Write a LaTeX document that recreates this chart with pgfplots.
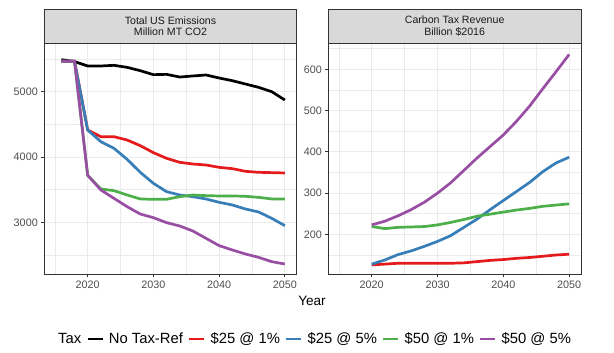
\documentclass[border=0pt]{standalone}
\usepackage{pgfplots}
\pgfplotsset{compat=1.18}
\usepackage{fontspec}
\setmainfont{Liberation Sans}
\definecolor{cred}{HTML}{E41A1C}
\definecolor{cblue}{HTML}{377EB8}
\definecolor{cgreen}{HTML}{4DAF4A}
\definecolor{cpurple}{HTML}{984EA3}
\definecolor{gray20}{HTML}{333333}
\definecolor{gray30}{HTML}{4D4D4D}
\definecolor{gray85}{HTML}{D9D9D9}
\definecolor{gray92}{HTML}{EBEBEB}
\definecolor{gray10}{HTML}{1A1A1A}
\pgfplotsset{
  panel/.style={
    scale only axis, height=230.7pt,
    xmin=2013.4, xmax=2051.8,
    xtick={2020,2030,2040,2050}, minor xtick={2015,2025,2035,2045},
    grid=both,
    major grid style={gray92, line width=1pt},
    minor grid style={gray92, line width=0.5pt},
    axis line style={gray20, line width=0.9pt},
    tick align=outside, major tick length=3pt, minor tick length=0pt,
    tick style={gray20, line width=0.8pt},
    tick pos=left,
    ticklabel style={font=\fontsize{10.8}{12}\selectfont, text=gray30},
    /pgf/number format/assume math mode=true,
    /pgf/number format/set thousands separator={},
    every axis plot/.append style={line width=2.7pt, no markers},
  }
}
\begin{document}
\begin{tikzpicture}
\path[use as bounding box] (0,0) rectangle (614pt,-353pt);
\begin{axis}[panel, name=L, at={(44.3pt,-274pt)}, anchor=south west, width=252.4pt,
  ymin=2210, ymax=5740,
  ytick={3000,4000,5000}, minor ytick={2500,3500,4500,5500},
  legend columns=-1,
  legend style={at={(1.061,-0.282)}, anchor=center, draw=none, fill=none,
    font=\fontsize{14.8}{16}\selectfont, inner sep=0pt,
    nodes={inner sep=0pt},
    /tikz/every odd column/.append style={column sep=5pt},
    /tikz/every even column/.append style={column sep=5pt}},
  legend image code/.code={\draw[#1] (0pt,0pt) -- (15pt,0pt);},
]
\addlegendimage{empty legend}
\addlegendentry{Tax\hspace{6pt}}
\addplot[black] coordinates {(2016,5490) (2018,5460) (2020,5393) (2022,5393) (2024,5403) (2026,5372) (2028,5321) (2030,5260) (2032,5265) (2034,5224) (2036,5240) (2038,5255) (2040,5209) (2042,5168) (2044,5117) (2046,5066) (2048,5000) (2050,4872)};
\addlegendentry{No Tax-Ref}
\addplot[cred] coordinates {(2016,5465) (2018,5465) (2020,4413) (2022,4311) (2024,4311) (2026,4260) (2028,4174) (2030,4067) (2032,3980) (2034,3919) (2036,3893) (2038,3878) (2040,3842) (2042,3822) (2044,3781) (2046,3766) (2048,3761) (2050,3756)};
\addlegendentry{\$25 @ 1\%}
\addplot[cblue] coordinates {(2016,5465) (2018,5465) (2020,4413) (2022,4235) (2024,4133) (2026,3965) (2028,3766) (2030,3597) (2032,3470) (2034,3419) (2036,3393) (2038,3358) (2040,3307) (2042,3266) (2044,3205) (2046,3159) (2048,3062) (2050,2950)};
\addlegendentry{\$25 @ 5\%}
\addplot[cgreen] coordinates {(2016,5465) (2018,5465) (2020,3720) (2022,3511) (2024,3485) (2026,3419) (2028,3358) (2030,3353) (2032,3353) (2034,3393) (2036,3419) (2038,3409) (2040,3404) (2042,3404) (2044,3399) (2046,3383) (2048,3358) (2050,3358)};
\addlegendentry{\$50 @ 1\%}
\addplot[cpurple] coordinates {(2016,5465) (2018,5465) (2020,3720) (2022,3496) (2024,3368) (2026,3240) (2028,3128) (2030,3072) (2032,2996) (2034,2945) (2036,2868) (2038,2756) (2040,2644) (2042,2578) (2044,2516) (2046,2465) (2048,2399) (2050,2363)};
\addlegendentry{\$50 @ 5\%}
\end{axis}
\begin{axis}[panel, name=R, at={(328.3pt,-274pt)}, anchor=south west, width=252.7pt,
  ymin=104, ymax=663,
  ytick={200,300,400,500,600}, minor ytick={150,250,350,450,550,650},
]
\addplot[cred] coordinates {(2020,126) (2022,128) (2024,130) (2026,130) (2028,130) (2030,130) (2032,130) (2034,131) (2036,134) (2038,137) (2040,139) (2042,142) (2044,144) (2046,147) (2048,150) (2050,152)};
\addplot[cblue] coordinates {(2020,128) (2022,138) (2024,151) (2026,160) (2028,171) (2030,183) (2032,197) (2034,217) (2036,237) (2038,260) (2040,282) (2042,304) (2044,326) (2046,352) (2048,373) (2050,387)};
\addplot[cgreen] coordinates {(2020,219) (2022,214) (2024,217) (2026,218) (2028,219) (2030,223) (2032,229) (2034,236) (2036,244) (2038,249) (2040,254) (2042,259) (2044,263) (2046,268) (2048,271) (2050,274)};
\addplot[cpurple] coordinates {(2020,223) (2022,232) (2024,245) (2026,260) (2028,278) (2030,300) (2032,325) (2034,355) (2036,385) (2038,413) (2040,441) (2042,474) (2044,511) (2046,553) (2048,594) (2050,636)};
\end{axis}
\draw[gray20, fill=gray85, line width=0.9pt] (L.north west) rectangle ([yshift=34.3pt]L.north east);
\draw[gray20, fill=gray85, line width=0.9pt] (R.north west) rectangle ([yshift=34.3pt]R.north east);
\node[align=center, font=\fontsize{10.6}{11.7}\selectfont, text=gray10] at ([yshift=17.15pt]L.north) {Total US Emissions\\Million MT CO2};
\node[align=center, font=\fontsize{10.6}{11.7}\selectfont, text=gray10] at ([yshift=17.15pt]R.north) {Carbon Tax Revenue\\Billion \$2016};
\node[font=\fontsize{13.6}{15}\selectfont] at (312pt,-301pt) {Year};
\end{tikzpicture}
\end{document}
